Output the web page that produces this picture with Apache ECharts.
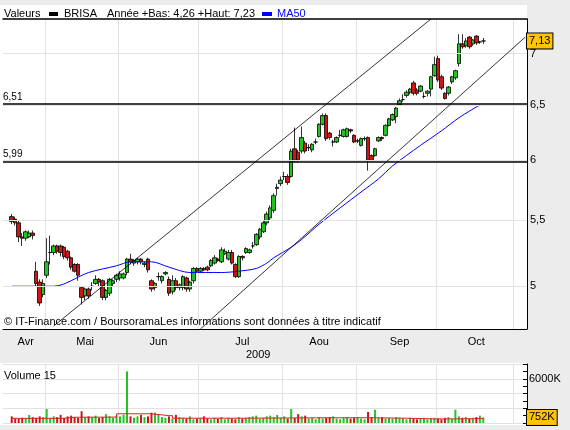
<!DOCTYPE html>
<html>
<head>
<meta charset="utf-8">
<script src="https://cdn.jsdelivr.net/npm/echarts@6/dist/echarts.min.js"></script>
<style>
html,body{margin:0;padding:0;background:#ececec;}
#chart{width:570px;height:430px;}
</style>
</head>
<body>
<div id="chart"></div>
<script>
// cours BRISA : [ouverture, cloture, bas, haut]
var ohlc = [
  [5.53,5.49,5.47,5.55],[5.51,5.48,5.46,5.53],[5.48,5.37,5.33,5.50],[5.37,5.36,5.30,5.40],[5.36,5.41,5.34,5.42],[5.37,5.40,5.36,5.42],[5.40,5.38,5.35,5.42],
  [5.11,5.02,5.00,5.18],[5.03,4.88,4.86,5.05],[4.94,5.02,4.92,5.05],[5.08,5.18,5.06,5.36],[5.25,5.25,5.16,5.38],[5.25,5.30,5.23,5.31],[5.30,5.26,5.24,5.31],
  [5.30,5.25,5.22,5.31],[5.29,5.22,5.20,5.30],[5.26,5.21,5.19,5.27],[5.21,5.14,5.12,5.22],[5.16,5.11,5.10,5.17],[5.16,5.08,5.04,5.17],
  [4.99,4.92,4.87,5.00],[4.93,4.98,4.90,4.99],[4.98,4.93,4.91,4.99],[5.00,5.00,4.97,5.03],[5.02,5.05,5.01,5.08],[5.05,5.03,5.00,5.06],[5.04,4.92,4.90,5.05],
  [4.92,4.97,4.90,4.98],[4.95,5.05,4.93,5.06],[5.02,5.04,5.00,5.05],[5.05,5.08,5.03,5.09],[5.06,5.09,5.04,5.11],[5.06,5.09,5.05,5.10],[5.10,5.20,5.08,5.21],
  [5.20,5.18,5.16,5.24],[5.17,5.19,5.15,5.20],[5.18,5.20,5.16,5.21],[5.20,5.18,5.16,5.21],[5.16,5.17,5.14,5.18],[5.20,5.12,5.10,5.21],
  [5.04,4.98,4.96,5.05],[4.99,5.02,4.97,5.03],[5.07,5.07,5.04,5.10],[5.04,5.07,5.02,5.08],[5.09,5.10,5.08,5.11],[5.05,4.95,4.93,5.07],[4.96,5.04,4.94,5.08],
  [5.04,4.99,4.97,5.06],[4.99,5.01,4.97,5.02],[4.99,5.07,4.97,5.08],[5.06,4.98,4.96,5.07],[4.98,5.03,4.96,5.04],[5.04,5.13,5.02,5.14],[5.13,5.11,5.10,5.14],
  [5.11,5.13,5.10,5.14],[5.13,5.12,5.11,5.14],[5.14,5.12,5.11,5.15],[5.15,5.19,5.14,5.20],[5.17,5.21,5.16,5.23],[5.20,5.19,5.18,5.21],[5.18,5.27,5.17,5.29],
  [5.24,5.26,5.23,5.28],[5.20,5.25,5.19,5.27],[5.25,5.17,5.16,5.27],[5.16,5.07,5.06,5.17],[5.07,5.22,5.06,5.23],[5.22,5.21,5.19,5.23],[5.25,5.28,5.24,5.29],
  [5.25,5.27,5.24,5.28],[5.30,5.30,5.28,5.33],[5.31,5.39,5.30,5.40],[5.37,5.43,5.35,5.44],[5.41,5.48,5.40,5.50],
  [5.48,5.55,5.46,5.57],[5.52,5.60,5.50,5.62],[5.58,5.70,5.56,5.72],[5.76,5.77,5.70,5.80],[5.80,5.83,5.78,5.86],[5.86,5.86,5.83,5.90],[5.86,5.81,5.79,5.88],
  [5.86,6.08,5.85,6.10],[6.10,6.00,5.98,6.29],[6.07,6.00,5.98,6.09],[6.08,6.20,6.06,6.30],[6.15,6.08,6.06,6.17],[6.11,6.11,6.08,6.14],[6.09,6.14,6.07,6.15],
  [6.16,6.16,6.14,6.19],[6.21,6.32,6.20,6.33],[6.32,6.40,6.31,6.42],[6.40,6.19,6.17,6.42],[6.24,6.20,6.18,6.25],[6.16,6.16,6.12,6.18],[6.16,6.20,6.15,6.21],
  [6.22,6.22,6.20,6.27],[6.21,6.27,6.20,6.28],[6.21,6.28,6.20,6.29],[6.27,6.26,6.24,6.28],[6.22,6.16,6.15,6.23],[6.17,6.17,6.15,6.19],[6.13,6.19,6.12,6.20],
  [6.19,6.19,6.17,6.21],[6.20,6.00,5.91,6.21],[6.04,6.00,5.99,6.05],[6.04,6.10,6.03,6.11],[6.17,6.20,6.16,6.21],[6.20,6.19,6.17,6.21],[6.22,6.31,6.21,6.32],
  [6.31,6.37,6.30,6.38],[6.36,6.41,6.35,6.42],[6.39,6.47,6.33,6.48],[6.50,6.54,6.49,6.56],[6.55,6.55,6.53,6.60],[6.59,6.62,6.57,6.64],[6.62,6.65,6.60,6.66],
  [6.71,6.61,6.59,6.73],[6.64,6.61,6.59,6.66],[6.63,6.68,6.62,6.69],[6.58,6.58,6.56,6.62],[6.61,6.63,6.58,6.64],[6.65,6.77,6.58,6.78],[6.78,6.89,6.77,6.97],
  [6.95,6.74,6.72,6.98],[6.77,6.66,6.64,6.79],[6.61,6.56,6.55,6.62],[6.61,6.67,6.59,6.68],[6.72,6.77,6.70,6.78],[6.76,6.83,6.74,6.84],[6.90,7.10,6.87,7.20],
  [7.10,7.07,7.05,7.20],[7.08,7.13,7.06,7.16],[7.17,7.07,7.05,7.18],[7.10,7.14,7.08,7.15],[7.18,7.11,7.09,7.19],[7.12,7.12,7.10,7.13],[7.13,7.13,7.10,7.16]
];
// volumes en milliers
var volumes = [
  900,600,600,700,600,1100,800,
  700,900,800,1900,700,900,800,1100,700,900,1000,800,700,
  1600,800,900,800,1000,700,800,1200,900,700,1000,900,1100,7000,900,700,900,1100,800,900,
  1400,1400,1200,800,700,900,600,1100,800,700,600,900,500,600,700,900,600,500,700,600,800,500,700,600,500,800,600,700,800,900,1000,600,700,
  900,1000,800,1100,700,900,600,1900,700,1200,900,1000,600,700,500,800,600,700,800,900,600,500,700,800,600,700,800,600,500,1500,800,1800,700,800,600,
  700,600,800,700,600,500,700,600,500,600,700,500,600,700,600,500,700,800,600,1800,900,700,800,600,700,800,1000,752
];
// moyenne mobile 50 : [jour, valeur]
var ma50 = [[2,5.00],[14,5.00],[24,5.10],[32,5.15],[36,5.18],[42,5.18],[47,5.14],[53,5.10],[62,5.10],[67,5.11],[72,5.13],
  [75,5.17],[77,5.21],[82,5.29],[85,5.35],[90,5.47],[96,5.60],[102,5.73],[107,5.84],[111,5.95],[119,6.13],[125,6.26],[130,6.38],[136,6.50]];
// moyenne volume 15 : [jour, valeur]
var volMa = [[2,630],[11,630],[17,780],[20,800],[31,800],[32,1250],[41,1250],[42,1000],[47,1000],[48,650],[67,700],[89,720],
  [104,650],[115,560],[123,550],[128,600],[137,600]];
var monthNames = ['Avr','Mai','Jun','Jul','Aou','Sep','Oct'];
var monthDays = [6,23,44,68,90,113,135];
var gridDays = [12,33,56,80,101,124,146];
var nbDays = 150;
var firstDay = 2;
var priceLevels = [5,5.5,6,6.5,7];
var priceLabels = ['5','5,5','6','6,5','7'];
var supports = [6.51,5.99];
var channelUp = [[14.4,4.72],[122.3,7.36]];
var channelDown = [[55.9,4.70],[149,7.17]];
var lastPrice = 7.13;

var chart = echarts.init(document.getElementById('chart'));
var days = [];
for (var i = 0; i < nbDays; i++) days.push(String(i));
var candleData = [];
var volData = [];
for (var i = 0; i < nbDays; i++) {
  var k = i - firstDay;
  if (k >= 0 && k < ohlc.length) {
    candleData.push(ohlc[k]);
    volData.push({value: volumes[k], itemStyle: {color: ohlc[k][1] >= ohlc[k][0] ? '#22c322' : '#cc1515'}});
  } else {
    candleData.push('-');
    volData.push('-');
  }
}
function isGrid(idx) { return gridDays.indexOf(idx) >= 0; }
function isMonth(idx) { return monthDays.indexOf(idx) >= 0; }

var font = 'Liberation Sans';
var marks = [];
priceLevels.forEach(function (v, j) {
  marks.push({yAxis: v, lineStyle: {color: '#e2e2e2', width: 1, type: 'solid'},
    label: {show: true, position: 'end', formatter: priceLabels[j], color: '#000', fontSize: 11, fontFamily: font, distance: 3}});
});
supports.forEach(function (v) {
  marks.push({yAxis: v, lineStyle: {color: '#000', width: 1.5, type: 'solid'},
    label: {show: true, position: 'insideStartTop', formatter: String(v).replace('.', ','), color: '#000', fontSize: 10, fontFamily: font, distance: [0, 2]}});
});
marks.push({yAxis: lastPrice, lineStyle: {color: 'transparent'},
  label: {show: true, position: 'end', formatter: String(lastPrice).replace('.', ','), color: '#000', fontSize: 11, fontFamily: font,
    backgroundColor: '#ffc400', borderColor: '#000', borderWidth: 1, padding: [3, 2, 1, 2], distance: 0}});
[channelUp, channelDown].forEach(function (c) {
  marks.push([{coord: c[0], lineStyle: {color: '#000', width: 0.8, type: 'solid'}, label: {show: false}}, {coord: c[1]}]);
});

var option = {
  animation: false,
  textStyle: {fontFamily: font},
  graphic: [
    {type: 'rect', shape: {x: 0, y: 5, width: 566, height: 325}, style: {fill: '#fff'}, z: -10},
    {type: 'rect', shape: {x: 0, y: 363, width: 566, height: 62}, style: {fill: '#fff'}, z: -10},
    {type: 'rect', shape: {x: 527, y: 5, width: 43, height: 325}, style: {fill: '#ececec'}, z: -9},
    {type: 'rect', shape: {x: 527, y: 363, width: 43, height: 62}, style: {fill: '#ececec'}, z: -9},
    {type: 'text', left: 4, top: 8, style: {text: 'Valeurs', fontSize: 11, fontFamily: font, fill: '#000'}},
    {type: 'rect', shape: {x: 49, y: 12, width: 9, height: 4}, style: {fill: '#000'}},
    {type: 'text', left: 64, top: 8, style: {text: 'BRISA', fontSize: 11, fontFamily: font, fill: '#000'}},
    {type: 'text', left: 107, top: 8, style: {text: 'Année +Bas: 4,26 +Haut: 7,23', fontSize: 11, fontFamily: font, fill: '#000'}},
    {type: 'rect', shape: {x: 262, y: 12, width: 10, height: 4}, style: {fill: '#0000ff'}},
    {type: 'text', left: 277, top: 8, style: {text: 'MA50', fontSize: 11, fontFamily: font, fill: '#0000ff'}},
    {type: 'text', left: 4, top: 316, style: {text: '© IT-Finance.com / BoursoramaLes informations sont données à titre indicatif', fontSize: 11, fontFamily: font, fill: '#000'}, z: 100},
    {type: 'text', left: 246, top: 349, style: {text: '2009', fontSize: 11, fontFamily: font, fill: '#000'}},
    {type: 'text', left: 4, top: 370, style: {text: 'Volume 15', fontSize: 11, fontFamily: font, fill: '#000'}, z: 100}
  ],
  grid: [
    {left: 3, right: 43, top: 19, height: 310},
    {left: 3, right: 43, top: 364, height: 59}
  ],
  xAxis: [
    {type: 'category', gridIndex: 0, data: days,
      axisLine: {lineStyle: {color: '#000'}},
      axisTick: {interval: function (idx) { return isGrid(idx); }, length: 4, lineStyle: {color: '#000'}},
      axisLabel: {interval: function (idx) { return isMonth(idx); }, formatter: function (v) { return monthNames[monthDays.indexOf(+v)]; },
        color: '#000', fontSize: 11, fontFamily: font, margin: 7},
      splitLine: {show: true, interval: function (idx) { return isGrid(idx); }, lineStyle: {color: '#e2e2e2'}}},
    {type: 'category', gridIndex: 0, data: days, position: 'top',
      axisLine: {lineStyle: {color: '#000', width: 1.5}}, axisTick: {show: false}, axisLabel: {show: false}},
    {type: 'category', gridIndex: 1, data: days,
      axisLine: {show: false}, axisTick: {show: false}, axisLabel: {show: false},
      splitLine: {show: true, interval: function (idx) { return isGrid(idx); }, lineStyle: {color: '#e2e2e2'}}}
  ],
  yAxis: [
    {type: 'log', gridIndex: 0, min: 4.70, max: 7.36, position: 'right',
      axisLine: {show: true, lineStyle: {color: '#000'}}, axisTick: {show: false}, axisLabel: {show: false}, splitLine: {show: false}},
    {type: 'value', gridIndex: 1, min: 0, max: 8000, interval: 2000, position: 'right',
      axisLine: {show: true, lineStyle: {color: '#000'}},
      axisTick: {show: true, inside: true, length: 4, lineStyle: {color: '#000'}},
      minorTick: {show: true, splitNumber: 2, length: 4, lineStyle: {color: '#000'}},
      axisLabel: {formatter: function (v) { return v === 6000 ? '6000K' : ''; }, color: '#000', fontSize: 11, fontFamily: font, margin: 2},
      splitLine: {show: true, lineStyle: {color: '#e2e2e2'}}}
  ],
  series: [
    {type: 'candlestick', xAxisIndex: 0, yAxisIndex: 0, data: candleData, barWidth: 4,
      itemStyle: {color: '#22c322', color0: '#cc1515', borderColor: '#000', borderColor0: '#000', borderWidth: 0.8},
      markLine: {silent: true, symbol: 'none', animation: false, data: marks}},
    {type: 'line', xAxisIndex: 0, yAxisIndex: 0, data: ma50, showSymbol: false, smooth: 0.3,
      lineStyle: {color: '#0000ff', width: 1}},
    {type: 'bar', xAxisIndex: 2, yAxisIndex: 1, data: volData, barWidth: 2,
      markLine: {silent: true, symbol: 'none', animation: false,
        data: [{yAxis: 752, lineStyle: {color: 'transparent'},
          label: {show: true, position: 'end', formatter: '752K', color: '#000', fontSize: 11, fontFamily: font,
            backgroundColor: '#ffc400', borderColor: '#000', borderWidth: 1, padding: [3, 2, 1, 2], distance: 0}}]}},
    {type: 'line', xAxisIndex: 2, yAxisIndex: 1, data: volMa, showSymbol: false, step: 'end',
      lineStyle: {color: '#d22', width: 1}}
  ]
};
chart.setOption(option);
</script>
</body>
</html>
